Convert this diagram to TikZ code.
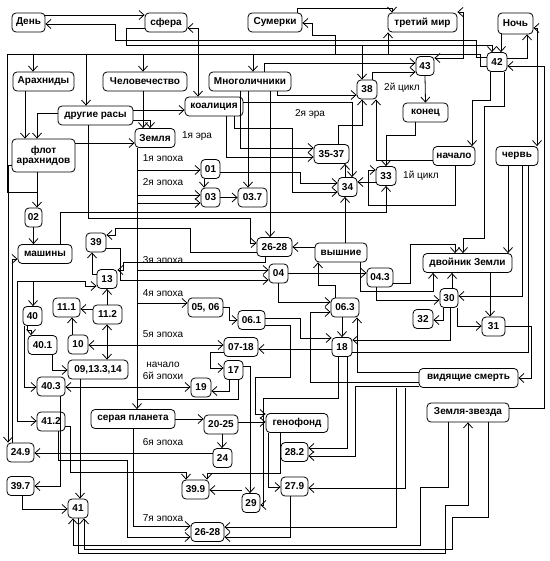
\documentclass[tikz,border=0pt]{standalone}
\usepackage{fontspec}
\setmainfont{Liberation Sans}
\usetikzlibrary{arrows.meta}
\begin{document}
\begin{tikzpicture}[x=1pt,y=-1pt,
  box/.style={draw, rounded corners=4pt, line width=0.8pt, inner sep=0pt, minimum height=19pt, font=\bfseries\fontsize{10}{12}\selectfont},
  lbl/.style={font=\fontsize{10}{12}\selectfont, inner sep=0pt},
  w/.style={line width=0.8pt},
  arr/.style={w, -{Straight Barb[length=5pt,width=9pt]}},
  arr2/.style={w, {Straight Barb[length=5pt,width=9pt]}-{Straight Barb[length=5pt,width=9pt]}}]
\useasboundingbox (0,0) rectangle (549,561);
% nodes
\node[box,minimum width=33pt] (dn) at (28.5,22.5) {День};
\node[box,minimum width=42pt] (sf) at (166,22.5) {сфера};
\node[box,minimum width=54pt] (sm) at (275,22.5) {Сумерки};
\node[box,minimum width=69pt] (tm) at (422.5,22.5) {третий мир};
\node[box,minimum width=35pt,minimum height=21pt] (nc) at (515.5,23.5) {Ночь};
\node[box,minimum width=61pt] (ar) at (43.5,81.5) {Арахниды};
\node[box,minimum width=84pt] (ch) at (145,81.5) {Человечество};
\node[box,minimum width=82pt] (mn) at (250,81.5) {Многоличники};
\node[box,minimum width=58pt] (ko) at (214,106.5) {коалиция};
\node[box,minimum width=75pt] (dr) at (95.5,115.5) {другие расы};
\node[box,minimum width=40pt] (ze) at (155,138) {Земля};
\node[box,minimum width=63pt,minimum height=33pt,align=center] (fl) at (43.5,155.5) {флот\\[-2pt]арахнидов};
\node[box,minimum width=19pt] (n01) at (210.5,169) {01};
\node[box,minimum width=19pt] (n03) at (210.5,197.5) {03};
\node[box,minimum width=29pt] (n037) at (252.5,197.5) {03.7};
\node[box,minimum width=17pt] (n02) at (33.5,217.5) {02};
\node[box,minimum width=54pt] (ma) at (45,254) {машины};
\node[box,minimum width=20pt] (n39) at (96,242.5) {39};
\node[box,minimum width=35pt] (n2628a) at (274.5,247) {26-28};
\node[box,minimum width=35pt] (n3537) at (331.5,154) {35-37};
\node[box,minimum width=19pt] (n34) at (347.5,187) {34};
\node[box,minimum width=20pt] (n33) at (386,176) {33};
\node[box,minimum width=42pt] (na) at (454,156) {начало};
\node[box,minimum width=42pt] (cv) at (517,156) {червь};
\node[box,minimum width=52pt] (vy) at (341,252.5) {вышние};
\node[box,minimum width=89pt] (dz) at (467.5,263) {двойник Земли};
\node[box,minimum width=20pt] (n38) at (367,89.5) {38};
\node[box,minimum width=18pt] (n43) at (425,66) {43};
\node[box,minimum width=45pt] (kn) at (425.5,112.5) {конец};
\node[box,minimum width=20pt] (n42) at (497,62) {42};
\node[box,minimum width=19pt] (n04) at (278.5,273.5) {04};
\node[box,minimum width=26pt] (n043) at (380,277.5) {04.3};
\node[box,minimum width=28pt] (n063) at (345,307.5) {06.3};
\node[box,minimum width=18pt] (n30) at (449,298) {30};
\node[box,minimum width=20pt] (n32) at (423,319) {32};
\node[box,minimum width=23pt] (n31) at (493.5,326.5) {31};
\node[box,minimum width=20pt] (n18) at (342,347) {18};
\node[box,minimum width=99pt] (vs) at (468.5,378) {видящие смерть};
\node[box,minimum width=82pt] (zz) at (468,412.5) {Земля-звезда};
\node[box,minimum width=20pt] (n13) at (107,279) {13};
\node[box,minimum width=27pt] (n111) at (66.5,307.5) {11.1};
\node[box,minimum width=29pt] (n112) at (107.5,314.5) {11.2};
\node[box,minimum width=19pt] (n40) at (32.5,316) {40};
\node[box,minimum width=29pt] (n401) at (42.5,345) {40.1};
\node[box,minimum width=20pt] (n10) at (78,344.5) {10};
\node[box,minimum width=60pt] (n09) at (98,369.5) {09,13.3,14};
\node[box,minimum width=35pt] (n0506) at (205.5,307.5) {05, 06};
\node[box,minimum width=27pt] (n061) at (251.5,320) {06.1};
\node[box,minimum width=34pt] (n0718) at (241,347) {07-18};
\node[box,minimum width=19pt] (n17) at (233.5,370) {17};
\node[box,minimum width=28pt] (n403) at (51,386.5) {40.3};
\node[box,minimum width=20pt] (n19) at (201,387.5) {19};
\node[box,minimum width=84pt] (sp) at (133,419) {серая планета};
\node[box,minimum width=34pt] (n2025) at (221,424.5) {20-25};
\node[box,minimum width=19pt] (n24) at (222.5,458) {24};
\node[box,minimum width=28pt] (n412) at (51,421.5) {41.2};
\node[box,minimum width=27pt] (n249) at (20.5,452.5) {24.9};
\node[box,minimum width=27pt] (n397) at (20.5,486) {39.7};
\node[box,minimum width=20pt] (n41) at (78,508.5) {41};
\node[box,minimum width=27pt] (n399) at (195.5,489.5) {39.9};
\node[box,minimum width=18pt] (n29) at (251,503) {29};
\node[box,minimum width=33pt] (n2628b) at (207.5,532) {26-28};
\node[box,minimum width=62pt] (gf) at (297,423) {генофонд};
\node[box,minimum width=27pt] (n282) at (294.5,452) {28.2};
\node[box,minimum width=27pt] (n279) at (294.5,486.5) {27.9};
% labels
\node[lbl] (l1) at (197,136) {1я эра};
\node[lbl] (l2) at (163,158) {1я эпоха};
\node[lbl] (l3) at (163,182) {2я эпоха};
\node[lbl] (l4) at (163,260) {3я эпоха};
\node[lbl] (l5) at (163,293) {4я эпоха};
\node[lbl] (l6) at (163,334) {5я эпоха};
\node[lbl,align=center] (l7) at (163,371) {начало\\6й эпохи};
\node[lbl] (l8) at (163,442) {6я эпоха};
\node[lbl] (l9) at (163,518) {7я эпоха};
\node[lbl] (l10) at (310,114) {2я эра};
\node[lbl] (l11) at (402,88) {2й цикл};
\node[lbl] (l12) at (421,176) {1й цикл};
% top wires
\draw[arr] (dn.east|-0,15) -- (sf.west|-0,15);
\draw[arr] (n42.west|-0,57) -| (476,40) -| (115,24) -- (dn.east|-0,24);
\draw[arr] (sf.west|-0,28) -| (126,45) -| (n42.north-|492,0);
\draw[w] (n42.west|-0,66) -| (480,54) -- (7,54) -- (7,192) -- (37,192);
\draw[arr] (33,54) -- (ar.north-|33,0);
\draw[arr] (86,54) -- (dr.north-|86,0);
\draw[arr] (143,54) -- (ch.north-|143,0);
\draw[arr] (253,54) -- (mn.north-|253,0);
\draw[arr] (335,54) |- (312,35) |- (sm.east|-0,23);
\draw[arr] (388,54) -- (tm.south-|388,0);
\draw[arr] (sm.north-|297,0) -- (297,8) -| (tm.north-|392,0);
\draw[arr2] (tm.east|-0,12) -| (463,58) -- (n43.east|-0,58);
\draw[arr] (n38.north-|372,0) |- (n43.west|-0,72);
\draw[arr] (mn.north-|264,0) |- (n43.west|-0,63);
\draw[arr] (362,45) -- (n38.north-|362,0);
\draw[arr] (mn.south-|277,0) |- (n38.west|-0,95);
\draw[arr] (n43.south) -- (kn.north);
\draw[arr] (nc.south-|501,0) -- (n42.north-|501,0);
\draw[arr] (n42.east|-0,58) -| (nc.south-|527,0);
\draw[arr2] (nc.east|-0,28) -| (cv.north-|537,0);
\draw[arr] (n42.south-|490,0) |- (472,100) -- (na.north-|472,0);
\draw[arr] (n42.south-|504,0) |- (484,106) |- (463,238) -- (dz.north-|463,0);
\draw[arr] (zz.east|-0,408) -| (544,66) -- (n42.east|-0,66);
% left/middle
\draw[arr] (ar.south-|25,0) -- (fl.north-|25,0);
\draw[arr] (dr.west|-0,113) -| (fl.north-|37,0);
\draw[arr] (ch.south-|143,0) -- (ze.north-|143,0);
\draw[arr] (dr.east|-0,120) -| (ze.north-|150,0);
\draw[arr] (dr.east|-0,110) -- (ko.west|-0,110);
\draw[arr2] (sf.east|-0,28) -| (ko.north-|198,0);
\draw[arr] (fl.east|-0,143) -- (ze.west|-0,143);
\draw[arr] (fl.south-|37,0) -- (n02.north-|37,0);
\draw[arr] (n02.south) -- (ma.north-|33.5,0);
\draw[arr] (ze.south-|137,0) -- (sp.north-|137,0);
\draw[arr] (137,170) -- (n01.west|-0,170);
\draw[arr] (137,195) -- (n03.west|-0,195);
\draw[arr] (137,203) -- (n03.west|-0,203);
\draw[arr] (137,270) -- (n04.west|-0,270);
\draw[arr] (137,303) -- (n0506.west|-0,303);
\draw[arr] (sp.south-|133,0) |- (n2628b.west|-0,526);
\draw[arr] (n412.south-|58,0) |- (127,460) |- (n2628b.west|-0,537);
\draw[arr] (n01.south-|204,0) -- (n03.north-|204,0);
\draw[arr] (n03.east) -- (n037.west);
\draw[arr] (mn.south-|248,0) -- (n037.north-|248,0);
\draw[arr] (n01.east|-0,172) -| (300,183) -- (n34.west|-0,183);
\draw[arr] (ko.south-|234,0) |- (292,128) |- (n34.west|-0,192);
\draw[arr] (ma.north-|60,0) |- (386,212) -- (n33.south-|386,0);
\draw[arr] (dr.south-|88,0) |- (250,218) |- (n2628a.west|-0,243);
\draw[arr] (n2628a.west|-0,252) -- (190,252) |- (115,228) |- (n39.east|-0,235);
\draw[arr] (n39.east|-0,248) -| (120,280) -- (n04.west|-0,280);
\draw[arr] (n13.west|-0,274) -| (n39.south-|92,0);
\draw[arr2] (n412.west|-0,421) -| (17,281) -| (85,286) -- (n13.west|-0,286);
\draw[arr] (33,281) -- (n40.north-|33,0);
\draw[arr] (n2628a.south-|265,0) |- (123,262) |- (n13.east|-0,270);
\draw[arr] (n112.north-|107,0) -- (n13.south-|107,0);
\draw[arr] (n112.west|-0,309) -- (n111.east|-0,309);
\draw[arr2] (n112.south-|107,0) -- (n09.north-|107,0);
\draw[arr] (n10.north-|72,0) -- (n111.south-|72,0);
\draw[arr2] (n10.east|-0,345) -- (n0718.west|-0,345);
\draw[arr] (n40.south-|27,0) |- (31,330) -- (n401.north-|31,0);
\draw[arr] (n401.south-|52,0) |- (n09.west|-0,370);
\draw[arr] (n40.south-|24,0) |- (n403.west|-0,387);
\draw[arr2] (n403.east|-0,387) -- (n19.west|-0,387);
\draw[arr] (n403.south-|60,0) |- (n397.east|-0,486);
\draw[arr] (n397.south-|22,0) |- (n41.west|-0,509);
\draw[arr] (n09.south-|80,0) -- (n41.north-|80,0);
\draw[arr] (n249.north-|12,0) |- (ma.west|-0,259);
\draw[arr] (fl.west|-0,165) -| (n249.north-|8,0);
\draw[arr] (n0506.east|-0,307) -- (229,307) |- (n061.west|-0,320);
\draw[arr] (n0718.west|-0,352) -| (210,368) -- (n17.west|-0,368);
\draw[arr] (n17.south-|229,0) |- (n19.east|-0,391);
\draw[w] (n17.south-|238,0) |- (137,399);
\draw[arr] (n17.east|-0,366) -| (n29.north-|250,0);
\draw[arr] (n04.east|-0,273) -- (n043.west|-0,273);
\draw[arr] (vy.west|-0,247) -- (n2628a.east|-0,247);
\draw[arr] (vy.north-|345,0) -- (n34.south-|345,0);
\draw[arr] (n34.north-|345,0) -- (n3537.south-|345,0);
\draw[arr] (n33.west|-0,182) -- (n34.east|-0,182);
\draw[arr] (mn.south-|240,0) |- (n3537.west|-0,148);
\draw[arr] (ko.south-|226,0) |- (n3537.west|-0,157);
\draw[arr] (na.south-|455,0) |- (368,205) |- (n33.west|-0,170);
\draw[arr] (cv.south-|508,0) -- (dz.north-|508,0);
\draw[arr] (cv.south-|522,0) |- (n30.east|-0,296);
\draw[arr] (n043.east|-0,283) -| (410,244) -| (dz.north-|455,0);
\draw[arr] (vy.south-|360,0) |- (433,291) -- (dz.south-|433,0);
\draw[arr] (n063.north-|335,0) |- (318,285) -- (vy.south-|318,0);
\draw[arr] (n30.north-|452,0) -- (dz.south-|452,0);
\draw[arr] (n30.south-|443,0) |- (n32.east|-0,320);
\draw[arr] (n30.south-|457,0) |- (n31.west|-0,326);
\draw[arr] (dz.south-|490,0) -- (n31.north-|490,0);
\draw[arr] (n30.south-|450,0) |- (n18.east|-0,340);
\draw[arr] (n043.south-|376,0) |- (n30.west|-0,300);
\draw[arr] (n063.south-|342,0) -- (n18.north-|342,0);
\draw[arr] (n04.south-|278,0) |- (n063.west|-0,302);
\draw[arr] (vs.west|-0,372) -| (n063.south-|357,0);
\draw[arr] (n061.east|-0,318) -| (300,338) -- (n18.west|-0,338);
\draw[arr] (n061.east|-0,325) -| (290,377) -| (255,414) -- (gf.west|-0,414);
\draw[arr] (n18.west|-0,349) -- (n0718.east|-0,349);
\draw[arr] (n31.east|-0,326) -| (531,378) -- (vs.east|-0,378);
\draw[w] (n18.east|-0,352) -| (cv.south-|528,0);
\draw[arr] (n18.south-|338,0) |- (263,398) |- (n29.east|-0,505);
\draw[arr] (vs.west|-0,382) -- (310,382) |- (n063.west|-0,312);
\draw[arr] (vs.south-|396,0) |- (n2628b.east|-0,527);
\draw[arr] (vs.west|-0,386) -| (355,456) -- (n282.east|-0,456);
\draw[arr] (n18.south-|347,0) |- (n282.east|-0,448);
\draw[arr] (vs.south-|405,0) |- (n279.east|-0,488);
\draw[arr] (gf.south-|268,0) |- (n279.west|-0,487);
\draw[arr] (gf.south-|280,0) |- (207,473) -- (n399.north-|207,0);
\draw[arr] (n412.east|-0,426) -| (70,472) -| (n399.north-|186,0);
\draw[arr] (sp.east|-0,419) -- (n2025.west|-0,419);
\draw[arr] (n2025.south-|222,0) -- (n24.north-|222,0);
\draw[arr] (n2025.east|-0,422) -- (gf.west|-0,422);
\draw[arr] (n29.west|-0,490) -- (n399.east|-0,490);
\draw[arr] (n24.west|-0,453) -- (n249.east|-0,453);
\draw[arr] (zz.south-|448,0) |- (420,487) |- (73,545) -- (n41.south-|73,0);
\draw[arr] (n41.south-|78,0) |- (445,553) |- (468,505) -- (zz.south-|468,0);
\draw[arr] (zz.south-|488,0) |- (452,517) |- (84,549) -- (n41.south-|84,0);
\draw[arr] (n279.south-|290,0) |- (n2628b.east|-0,537);
\draw[arr] (mn.south-|270,0) -- (n2628a.north-|270,0);
\draw[arr] (ko.east|-0,102) -| (n34.north-|352,0);
\draw[arr] (n3537.north-|338,0) |- (362,125) -- (n38.south-|362,0);
\draw[arr] (na.west|-0,160) -| (n38.south-|376,0);
\draw[arr] (kn.south-|415,0) |- (386,135) -- (n33.north-|386,0);
\end{tikzpicture}
\end{document}
